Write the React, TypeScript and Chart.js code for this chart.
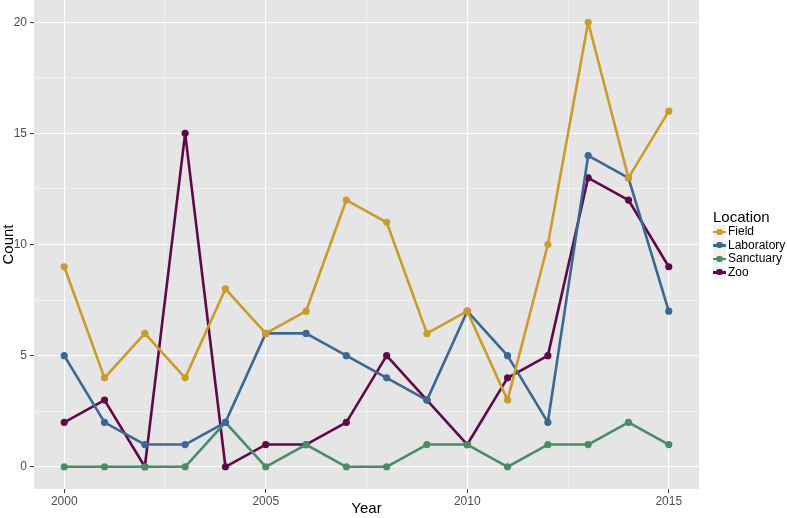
import React, { useEffect, useRef } from "react";
import { Chart, registerables } from "chart.js";
Chart.register(...registerables);

const years = [2000, 2001, 2002, 2003, 2004, 2005, 2006, 2007, 2008, 2009, 2010, 2011, 2012, 2013, 2014, 2015];
const field = [9, 4, 6, 4, 8, 6, 7, 12, 11, 6, 7, 3, 10, 20, 13, 16];
const laboratory = [5, 2, 1, 1, 2, 6, 6, 5, 4, 3, 7, 5, 2, 14, 13, 7];
const sanctuary = [0, 0, 0, 0, 2, 0, 1, 0, 0, 1, 1, 0, 1, 1, 2, 1];
const zoo = [2, 3, 0, 15, 0, 1, 1, 2, 5, 3, 1, 4, 5, 13, 12, 9];
const seriesNames = ["Field", "Laboratory", "Sanctuary", "Zoo"];
const seriesColors = ["#C99C2B", "#3B6791", "#4B8C67", "#5E0A4A"];
const xTicks = [2000, 2002.5, 2005, 2007.5, 2010, 2012.5, 2015];
const yTicks = [0, 2.5, 5, 7.5, 10, 12.5, 15, 17.5, 20];

const FONT = "'Liberation Sans', Arial, Helvetica, sans-serif";

const bgPlugin = {
  id: "panelBg",
  beforeDraw(chart: any) {
    const { ctx, chartArea } = chart;
    ctx.save();
    ctx.fillStyle = "#E5E5E5";
    ctx.fillRect(chartArea.left, chartArea.top, chartArea.right - chartArea.left, chartArea.bottom - chartArea.top);
    ctx.restore();
  },
};

export default function App() {
  const ref = useRef<HTMLCanvasElement>(null);
  useEffect(() => {
    document.body.style.margin = "0";
    const all = [field, laboratory, sanctuary, zoo];
    const chart = new Chart(ref.current!, {
      type: "line",
      data: {
        datasets: all.map((vals, i) => ({
          label: seriesNames[i],
          data: years.map((y, j) => ({ x: y, y: vals[j] })),
          borderColor: seriesColors[i],
          backgroundColor: seriesColors[i],
          borderWidth: 2.6,
          borderJoinStyle: "round",
          borderCapStyle: "round",
          pointRadius: 3.6,
          pointBorderWidth: 0,
          tension: 0,
        })),
      },
      options: {
        responsive: false,
        animation: false,
        layout: { autoPadding: false, padding: { left: 0, right: 88, top: 0, bottom: 0 } },
        plugins: { legend: { display: false }, tooltip: { enabled: false } },
        scales: {
          x: {
            type: "linear",
            min: 1999.25,
            max: 2015.75,
            afterBuildTicks: (s: any) => { s.ticks = xTicks.map((v) => ({ value: v })); },
            afterFit: (s: any) => { s.height = 29; s.paddingLeft = 0; s.paddingRight = 0; },
            border: { display: false },
            grid: {
              color: "#FFFFFF",
              lineWidth: (c: any) => (c.tick && c.tick.value % 5 === 0 ? 1.1 : 0.5),
              tickColor: (c: any) => (c.tick && c.tick.value % 5 === 0 ? "#333333" : "rgba(0,0,0,0)"),
              tickLength: 4,
              tickWidth: 1,
            },
            ticks: {
              autoSkip: false,
              maxRotation: 0,
              padding: 1,
              color: "#4D4D4D",
              font: { family: FONT, size: 12 },
              callback: (v: any) => (v % 5 === 0 ? String(v) : ""),
            },
            title: { display: true, text: "Year", color: "#000", font: { family: FONT, size: 15 }, padding: { top: 0, bottom: 0 } },
          },
          y: {
            type: "linear",
            min: -1,
            max: 21,
            afterBuildTicks: (s: any) => { s.ticks = yTicks.map((v) => ({ value: v })); },
            afterFit: (s: any) => { s.width = 34; s.paddingTop = 0; s.paddingBottom = 0; },
            border: { display: false },
            grid: {
              color: "#FFFFFF",
              lineWidth: (c: any) => (c.tick && c.tick.value % 5 === 0 ? 1.1 : 0.5),
              tickColor: (c: any) => (c.tick && c.tick.value % 5 === 0 ? "#333333" : "rgba(0,0,0,0)"),
              tickLength: 4,
              tickWidth: 1,
            },
            ticks: {
              autoSkip: false,
              padding: 3,
              color: "#4D4D4D",
              font: { family: FONT, size: 12 },
              callback: (v: any) => (v % 5 === 0 ? String(v) : ""),
            },
            title: { display: true, text: "Count", color: "#000", font: { family: FONT, size: 15 }, padding: { top: 0, bottom: 0 } },
          },
        },
      },
      plugins: [bgPlugin],
    } as any);
    return () => chart.destroy();
  }, []);

  return (
    <div style={{ position: "absolute", left: 0, top: 0, width: 787, height: 518, background: "#fff", fontFamily: FONT }}>
      <canvas ref={ref} width={787} height={518} style={{ display: "block", width: 787, height: 518 }} />
      <div style={{ position: "absolute", left: 713, top: 208, fontSize: 15, color: "#000", lineHeight: "17px" }}>Location</div>
      {seriesNames.map((n, i) => (
        <div key={n} style={{ position: "absolute", left: 713, top: 225 + i * 13.5, height: 13.5, display: "flex", alignItems: "center" }}>
          <div style={{ position: "relative", width: 13, height: 13, background: "#F2F2F2" }}>
            <div style={{ position: "absolute", left: 0, top: 5.5, width: 13, height: 2.4, background: seriesColors[i] }} />
            <div style={{ position: "absolute", left: 3.3, top: 3.3, width: 6.4, height: 6.4, borderRadius: "50%", background: seriesColors[i] }} />
          </div>
          <span style={{ marginLeft: 2, fontSize: 12, color: "#000", lineHeight: "13px", whiteSpace: "nowrap" }}>{n}</span>
        </div>
      ))}
    </div>
  );
}
